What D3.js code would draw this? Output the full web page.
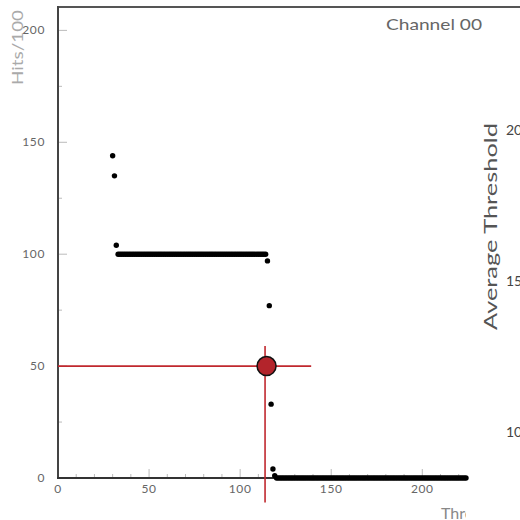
<!DOCTYPE html>
<html>
<head>
<meta charset="utf-8">
<script src="https://cdn.jsdelivr.net/npm/d3@7"></script>
<style>
  body { margin: 0; background: #fff; }
  text { font-family: Lato, "DejaVu Sans", sans-serif; }
</style>
</head>
<body>
<svg width="520" height="520"></svg>
<script>
// Threshold scan for one channel: hits (per 100) vs threshold setting
const thrStart = 30;
const hits = [
  144, 135, 104,
  100, 100, 100, 100, 100, 100, 100, 100, 100, 100,
  100, 100, 100, 100, 100, 100, 100, 100, 100, 100,
  100, 100, 100, 100, 100, 100, 100, 100, 100, 100,
  100, 100, 100, 100, 100, 100, 100, 100, 100, 100,
  100, 100, 100, 100, 100, 100, 100, 100, 100, 100,
  100, 100, 100, 100, 100, 100, 100, 100, 100, 100,
  100, 100, 100, 100, 100, 100, 100, 100, 100, 100,
  100, 100, 100, 100, 100, 100, 100, 100, 100, 100,
  100, 100,
  97, 77, 33, 4, 1,
  0, 0, 0, 0, 0, 0, 0, 0, 0, 0,
  0, 0, 0, 0, 0, 0, 0, 0, 0, 0,
  0, 0, 0, 0, 0, 0, 0, 0, 0, 0,
  0, 0, 0, 0, 0, 0, 0, 0, 0, 0,
  0, 0, 0, 0, 0, 0, 0, 0, 0, 0,
  0, 0, 0, 0, 0, 0, 0, 0, 0, 0,
  0, 0, 0, 0, 0, 0, 0, 0, 0, 0,
  0, 0, 0, 0, 0, 0, 0, 0, 0, 0,
  0, 0, 0, 0, 0, 0, 0, 0, 0, 0,
  0, 0, 0, 0, 0, 0, 0, 0, 0, 0,
  0, 0, 0, 0, 0
];
const points = hits.map((h, i) => ({thr: thrStart + i, hits: h}));

// 50% point marker and its cross-hair extents
const halfThr = 114.5, halfHits = 50;
const crossX = [0, 139];
const crossY = [-11, 59];

const xTicks = [0, 50, 100, 150, 200];
const yTicks = [0, 50, 100, 150, 200];
const rightTicks = ['200', '150', '100'];

const svg = d3.select('svg');

const x = d3.scaleLinear().domain([0, 224]).range([58, 466]);
const y = d3.scaleLinear().domain([0, 210]).range([478, 8]);

// minor ticks
svg.append('g').selectAll('line')
  .data(d3.range(0, 224, 10))
  .enter().append('line')
    .attr('x1', d => x(d)).attr('x2', d => x(d))
    .attr('y1', y(0)).attr('y2', d => y(0) - (d % 50 === 0 ? 9 : 4))
    .attr('stroke', '#bbb');

svg.append('g').selectAll('line')
  .data(d3.range(0, 210, 25))
  .enter().append('line')
    .attr('y1', d => y(d)).attr('y2', d => y(d))
    .attr('x1', x(0)).attr('x2', d => x(0) + (d % 50 === 0 ? 9 : 4))
    .attr('stroke', '#bbb');

// frame
svg.append('line')
  .attr('x1', x(0)).attr('x2', 520)
  .attr('y1', 7).attr('y2', 7)
  .attr('stroke', '#555').attr('stroke-width', 2);
svg.append('line')
  .attr('x1', x(0)).attr('x2', x(0))
  .attr('y1', 6).attr('y2', y(0) + 1)
  .attr('stroke', '#444').attr('stroke-width', 2);
svg.append('line')
  .attr('x1', x(0) - 1).attr('x2', x(224))
  .attr('y1', y(0)).attr('y2', y(0))
  .attr('stroke', '#333').attr('stroke-width', 2);

// tick labels
svg.append('g').selectAll('text')
  .data(xTicks)
  .enter().append('text')
    .attr('x', d => x(d))
    .attr('y', 493)
    .attr('text-anchor', 'middle')
    .attr('font-size', 12)
    .attr('letter-spacing', 0.6)
    .attr('fill', '#666')
    .text(d => d);

svg.append('g').selectAll('text')
  .data(yTicks)
  .enter().append('text')
    .attr('x', 45)
    .attr('y', d => y(d) + 4)
    .attr('text-anchor', 'end')
    .attr('font-size', 12)
    .attr('letter-spacing', 0.6)
    .attr('fill', '#666')
    .text(d => d);

svg.append('text')
  .attr('transform', 'translate(23, 85) rotate(-90)')
  .attr('font-size', 16)
  .attr('textLength', 75)
  .attr('lengthAdjust', 'spacingAndGlyphs')
  .attr('fill', '#aaa')
  .text('Hits/100');

svg.append('text')
  .attr('x', 386).attr('y', 30)
  .attr('font-size', 15)
  .attr('textLength', 96)
  .attr('lengthAdjust', 'spacingAndGlyphs')
  .attr('fill', '#666')
  .text('Channel 00');

svg.append('defs').append('clipPath').attr('id', 'clipL')
  .append('rect').attr('x', 0).attr('y', 0).attr('width', 466).attr('height', 520);

svg.append('text')
  .attr('clip-path', 'url(#clipL)')
  .attr('x', 441).attr('y', 519)
  .attr('font-family', '"Liberation Sans", Arial, sans-serif')
  .attr('font-size', 16)
  .attr('fill', '#888')
  .text('Threshold');

// data points
svg.append('g').selectAll('circle')
  .data(points)
  .enter().append('circle')
    .attr('cx', d => x(d.thr))
    .attr('cy', d => y(d.hits))
    .attr('r', 2.7)
    .attr('fill', 'black');

// cross-hair at 50%
svg.append('line')
  .attr('x1', x(crossX[0])).attr('x2', x(crossX[1]))
  .attr('y1', y(halfHits)).attr('y2', y(halfHits))
  .attr('stroke', '#c0282e').attr('stroke-width', 1.6);
svg.append('line')
  .attr('x1', x(halfThr) - 1.5).attr('x2', x(halfThr) - 1.5)
  .attr('y1', y(crossY[1])).attr('y2', y(crossY[0]))
  .attr('stroke', '#c0282e').attr('stroke-width', 1.6);
svg.append('circle')
  .attr('cx', x(halfThr)).attr('cy', y(halfHits))
  .attr('r', 9.5)
  .attr('fill', '#b3242b')
  .attr('stroke', '#111').attr('stroke-width', 1.5);

// neighbouring panel, cut off at the right edge
svg.append('text')
  .attr('transform', 'translate(497, 330) rotate(-90)')
  .attr('font-family', '"Liberation Sans", Arial, sans-serif')
  .attr('font-size', 18)
  .attr('textLength', 207)
  .attr('lengthAdjust', 'spacingAndGlyphs')
  .attr('fill', '#555')
  .text('Average Threshold');

svg.append('g').selectAll('text')
  .data(rightTicks)
  .enter().append('text')
    .attr('x', 506)
    .attr('y', (d, i) => 135 + i * 151)
    .attr('font-family', '"Liberation Sans", Arial, sans-serif')
    .attr('font-size', 14)
    .attr('fill', '#444')
    .text(d => d);
</script>
</body>
</html>
